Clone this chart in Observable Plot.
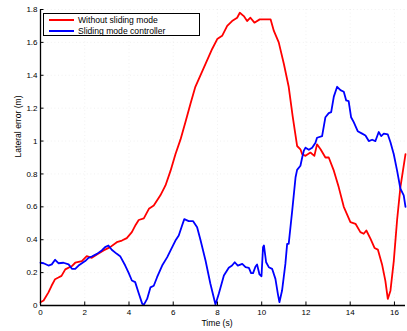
<!DOCTYPE html>
<html>
<head>
<meta charset="utf-8">
<script src="https://cdn.jsdelivr.net/npm/d3@7"></script>
<script src="https://cdn.jsdelivr.net/npm/@observablehq/plot@0.6"></script>
<style>
  body { margin: 0; background: #fff; }
  #wrap { position: relative; width: 407px; height: 331px; font-family: "Liberation Sans", Arial, sans-serif; }
  #legend { position: absolute; left: 43px; top: 13px; width: 157px; height: 23px; box-sizing: border-box;
            border: 1.3px solid #000; background: #fff; font-size: 8.6px; }
  .item { position: absolute; left: 0; height: 10px; }
  .sw { position: absolute; left: 5px; width: 25px; height: 0; border-top: 2px solid; }
  .lbl { position: absolute; left: 34px; white-space: nowrap; line-height: 10px; }
</style>
</head>
<body>
<div id="wrap"></div>
<script>
const seriesNames = ["Without sliding mode", "Sliding mode controller"];
const seriesColors = ["#ff0000", "#0000ff"];

const redTime = [0,0.14,0.36,0.5,0.66,0.81,0.95,1.12,1.42,1.57,1.87,2.09,2.32,2.55,2.85,3.15,3.45,3.68,3.9,4.13,4.3,4.44,4.67,4.9,5.12,5.42,5.65,5.88,6.1,6.33,6.55,6.78,7.0,7.23,7.46,7.76,7.99,8.21,8.44,8.66,8.89,9.01,9.19,9.34,9.49,9.67,9.91,10.1,10.4,10.55,10.77,11.0,11.22,11.4,11.5,11.6,11.75,11.83,11.98,12.2,12.38,12.5,12.66,12.88,13.03,13.26,13.48,13.71,14.01,14.24,14.46,14.61,14.73,14.92,15.1,15.25,15.44,15.59,15.7,15.82,15.97,16.12,16.27,16.5];
const redError = [0.02,0.03,0.08,0.12,0.16,0.17,0.18,0.22,0.24,0.26,0.27,0.30,0.29,0.31,0.335,0.355,0.385,0.395,0.41,0.446,0.49,0.52,0.53,0.588,0.608,0.67,0.73,0.82,0.92,1.01,1.115,1.227,1.33,1.40,1.47,1.56,1.62,1.64,1.70,1.73,1.75,1.78,1.76,1.73,1.75,1.72,1.74,1.74,1.74,1.67,1.60,1.47,1.33,1.15,1.06,0.97,0.95,0.92,0.91,0.93,0.91,0.98,0.95,0.90,0.90,0.82,0.72,0.60,0.507,0.497,0.446,0.436,0.456,0.405,0.35,0.34,0.25,0.15,0.04,0.09,0.27,0.52,0.72,0.92];

const blueTime = [0,0.14,0.36,0.51,0.66,0.81,1.04,1.27,1.42,1.57,1.72,1.87,2.02,2.17,2.32,2.55,2.77,2.92,3.07,3.22,3.45,3.6,3.83,3.98,4.13,4.28,4.44,4.6,4.67,4.82,4.97,5.12,5.27,5.5,5.73,5.88,6.1,6.25,6.4,6.5,6.7,6.9,7.08,7.23,7.46,7.68,7.91,8.06,8.29,8.51,8.66,8.78,8.92,9.12,9.27,9.42,9.52,9.61,9.72,9.79,9.9,9.99,10.06,10.1,10.2,10.32,10.47,10.62,10.73,10.8,10.92,11.07,11.15,11.22,11.38,11.53,11.6,11.75,11.83,11.9,11.98,12.13,12.28,12.43,12.5,12.73,12.88,13.03,13.14,13.26,13.41,13.56,13.71,13.82,13.93,14.04,14.16,14.34,14.54,14.69,14.84,14.99,15.14,15.29,15.4,15.52,15.7,15.82,15.97,16.12,16.27,16.42,16.5];
const blueError = [0.26,0.257,0.243,0.25,0.278,0.257,0.26,0.25,0.223,0.223,0.243,0.257,0.27,0.29,0.298,0.314,0.335,0.355,0.365,0.339,0.314,0.30,0.243,0.20,0.152,0.142,0.075,0.01,0.004,0.04,0.11,0.12,0.172,0.243,0.294,0.335,0.395,0.426,0.487,0.525,0.513,0.513,0.476,0.40,0.274,0.132,0.006,0.071,0.182,0.229,0.243,0.263,0.243,0.253,0.233,0.229,0.197,0.197,0.237,0.249,0.189,0.178,0.355,0.365,0.263,0.233,0.223,0.162,0.071,0.02,0.091,0.253,0.375,0.375,0.578,0.78,0.825,0.85,0.90,0.94,0.96,0.947,0.96,0.99,1.02,1.03,1.145,1.17,1.176,1.27,1.33,1.31,1.30,1.247,1.243,1.145,1.115,1.06,1.045,1.034,1.0,1.008,1.0,1.055,1.03,1.045,1.04,0.993,0.92,0.82,0.71,0.67,0.6];

const xTicks = [0,2,4,6,8,10,12,14,16];
const yTicks = [0,0.2,0.4,0.6,0.8,1,1.2,1.4,1.6,1.8];
const xLabel = "Time (s)";
const yLabel = "Lateral error (m)";

const red = redTime.map((t, i) => ({t, e: redError[i]}));
const blue = blueTime.map((t, i) => ({t, e: blueError[i]}));

const font = "'Liberation Sans', Arial, sans-serif";
const gridStyle = {stroke: "#777", strokeDasharray: "1,2.6", strokeWidth: 1};

const chart = Plot.plot({
  width: 407,
  height: 331,
  marginLeft: 40,
  marginRight: 2,
  marginTop: 9,
  marginBottom: 26,
  style: {fontFamily: font, fontSize: "8px", background: "transparent", overflow: "visible"},
  x: {domain: [0, 16.5], axis: null},
  y: {domain: [0, 1.8], axis: null},
  marks: [
    Plot.gridX(xTicks.filter(d => d > 0), gridStyle),
    Plot.gridY(yTicks.filter(d => d > 0), gridStyle),
    Plot.line(red, {x: "t", y: "e", stroke: seriesColors[0], strokeWidth: 1.8}),
    Plot.line(blue, {x: "t", y: "e", stroke: seriesColors[1], strokeWidth: 1.8}),
    Plot.ruleY([0], {stroke: "#000", strokeWidth: 1.3}),
    Plot.ruleX([0], {stroke: "#000", strokeWidth: 1.3}),
    Plot.axisX(xTicks, {tickSize: -3.5, tickFormat: () => "", label: null}),
    Plot.axisY(yTicks, {tickSize: -3.5, tickFormat: () => "", label: null}),
    Plot.axisX(xTicks, {tickSize: 0, tickPadding: 3.5, label: null, fontSize: 8, fill: "#000"}),
    Plot.axisY(yTicks, {tickSize: 0, tickPadding: 3, label: null, fontSize: 8, fill: "#000", tickFormat: d => String(d)}),
    Plot.text([xLabel], {frameAnchor: "bottom", dx: -6, dy: 20, fontSize: 8.6, fill: "#000"}),
    Plot.text([yLabel], {frameAnchor: "left", dx: -22, dy: 0, rotate: -90, fontSize: 8.6, fill: "#000"})
  ]
});

const wrap = document.getElementById("wrap");
wrap.appendChild(chart);

const legend = document.createElement("div");
legend.id = "legend";
seriesNames.forEach((name, i) => {
  const item = document.createElement("div");
  item.className = "item";
  item.style.top = (i === 0 ? 1 : 11.5) + "px";
  item.style.width = "100%";
  const sw = document.createElement("div");
  sw.className = "sw";
  sw.style.borderTopColor = seriesColors[i];
  sw.style.top = "4px";
  const lbl = document.createElement("div");
  lbl.className = "lbl";
  lbl.style.top = "0px";
  lbl.textContent = name;
  item.appendChild(sw);
  item.appendChild(lbl);
  legend.appendChild(item);
});
wrap.appendChild(legend);
</script>
</body>
</html>
